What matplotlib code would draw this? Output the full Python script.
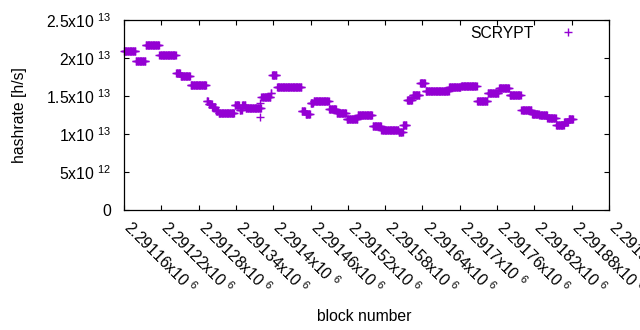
import matplotlib
matplotlib.use("Agg")
import matplotlib.pyplot as plt
import matplotlib.transforms as mtransforms
import numpy as np

plt.rcParams['font.family'] = ['Liberation Sans', 'DejaVu Sans']
plt.rcParams['mathtext.fontset'] = 'custom'
plt.rcParams['mathtext.rm'] = 'Liberation Sans'
plt.rcParams['mathtext.default'] = 'regular'

# block heights are offsets from the first block
first_block = 2291160
seg_start = [0, 19, 35, 57, 84, 91, 107, 133, 136, 142, 148, 152, 178, 186, 190,
             196, 221, 236, 238, 246, 286, 292, 300, 305, 330, 342, 358, 376, 400,
             414, 442, 449, 455, 464, 476, 485, 523, 542, 568, 585, 603, 620, 639,
             656, 668, 681, 695, 708, 715]
seg_end = seg_start[1:] + [723]
# hashrate per segment, in units of 1e12 h/s
seg_value = [20.88, 19.57, 21.67, 20.36, 17.98, 17.59, 16.4, 14.38, 14.0, 13.5,
             13.07, 12.8, 13.78, 13.16, 13.86, 13.38, 14.9, 15.35, 17.72, 16.14,
             12.98, 12.59, 14.12, 14.3, 13.25, 12.72, 11.93, 12.46, 11.05, 10.53,
             10.26, 11.22, 14.47, 15.17, 16.67, 15.62, 16.14, 16.27, 14.3, 15.35,
             16.01, 15.09, 13.16, 12.63, 12.46, 12.1, 11.22, 11.58, 11.93]
# single stray points
odd_block = [218, 219]
odd_value = [12.28, 14.1]

blocks = []
rates = []
for s, e, v in zip(seg_start, seg_end, seg_value):
    for b in range(s, e):
        blocks.append(first_block + b)
        rates.append(v * 1e12)
for b, v in zip(odd_block, odd_value):
    blocks.append(first_block + b)
    rates.append(v * 1e12)

xticks = np.arange(first_block, 2291941, 60)
yticks = [0, 5e12, 1e13, 1.5e13, 2e13, 2.5e13]


def sci(v):
    if v == 0:
        return "0"
    e = int(np.floor(np.log10(v)))
    m = v / 10 ** e
    return f"{m:g}x10 $^{{{e}}}$"


fs = 11.3
fig = plt.figure(figsize=(6.4, 3.3), dpi=100)
ax = fig.add_axes([124 / 640, 1 - 210 / 330, 485 / 640, 190 / 330])

ax.plot(blocks, rates, linestyle='none', marker='+', color='#9400d3',
        markersize=5.3, markeredgewidth=1.0, label='SCRYPT', clip_on=False)

ax.set_xlim(first_block, 2291940)
ax.set_ylim(0, 2.5e13)
ax.set_xticks(xticks)
ax.set_xticklabels([sci(v) for v in xticks], rotation=-45, ha='left',
                   va='baseline', rotation_mode='anchor')
ax.set_yticks(yticks)
ax.set_yticklabels([sci(v) for v in yticks])
ax.tick_params(direction='in', length=3.5, width=0.8, top=True, right=True,
               labelsize=fs, colors='black')
ax.tick_params(axis='y', pad=9)
ax.tick_params(axis='x', pad=13.3)
shift = mtransforms.ScaledTranslation(-0.015, 0, fig.dpi_scale_trans)
for lab in ax.get_xticklabels():
    lab.set_transform(lab.get_transform() + shift)
for sp in ax.spines.values():
    sp.set_linewidth(0.9)

ax.set_xlabel('block number', fontsize=fs)
ax.xaxis.set_label_coords(0.495, -0.52)
ax.set_ylabel('hashrate [h/s]', fontsize=fs)
ax.yaxis.set_label_coords(-0.2, 0.5)
ax.legend(loc='upper right', bbox_to_anchor=(0.963, 0.969), frameon=False,
          markerfirst=False, fontsize=fs, handlelength=3.0, handletextpad=0.63,
          borderpad=0, borderaxespad=0)

fig.savefig('out.png', dpi=100)
